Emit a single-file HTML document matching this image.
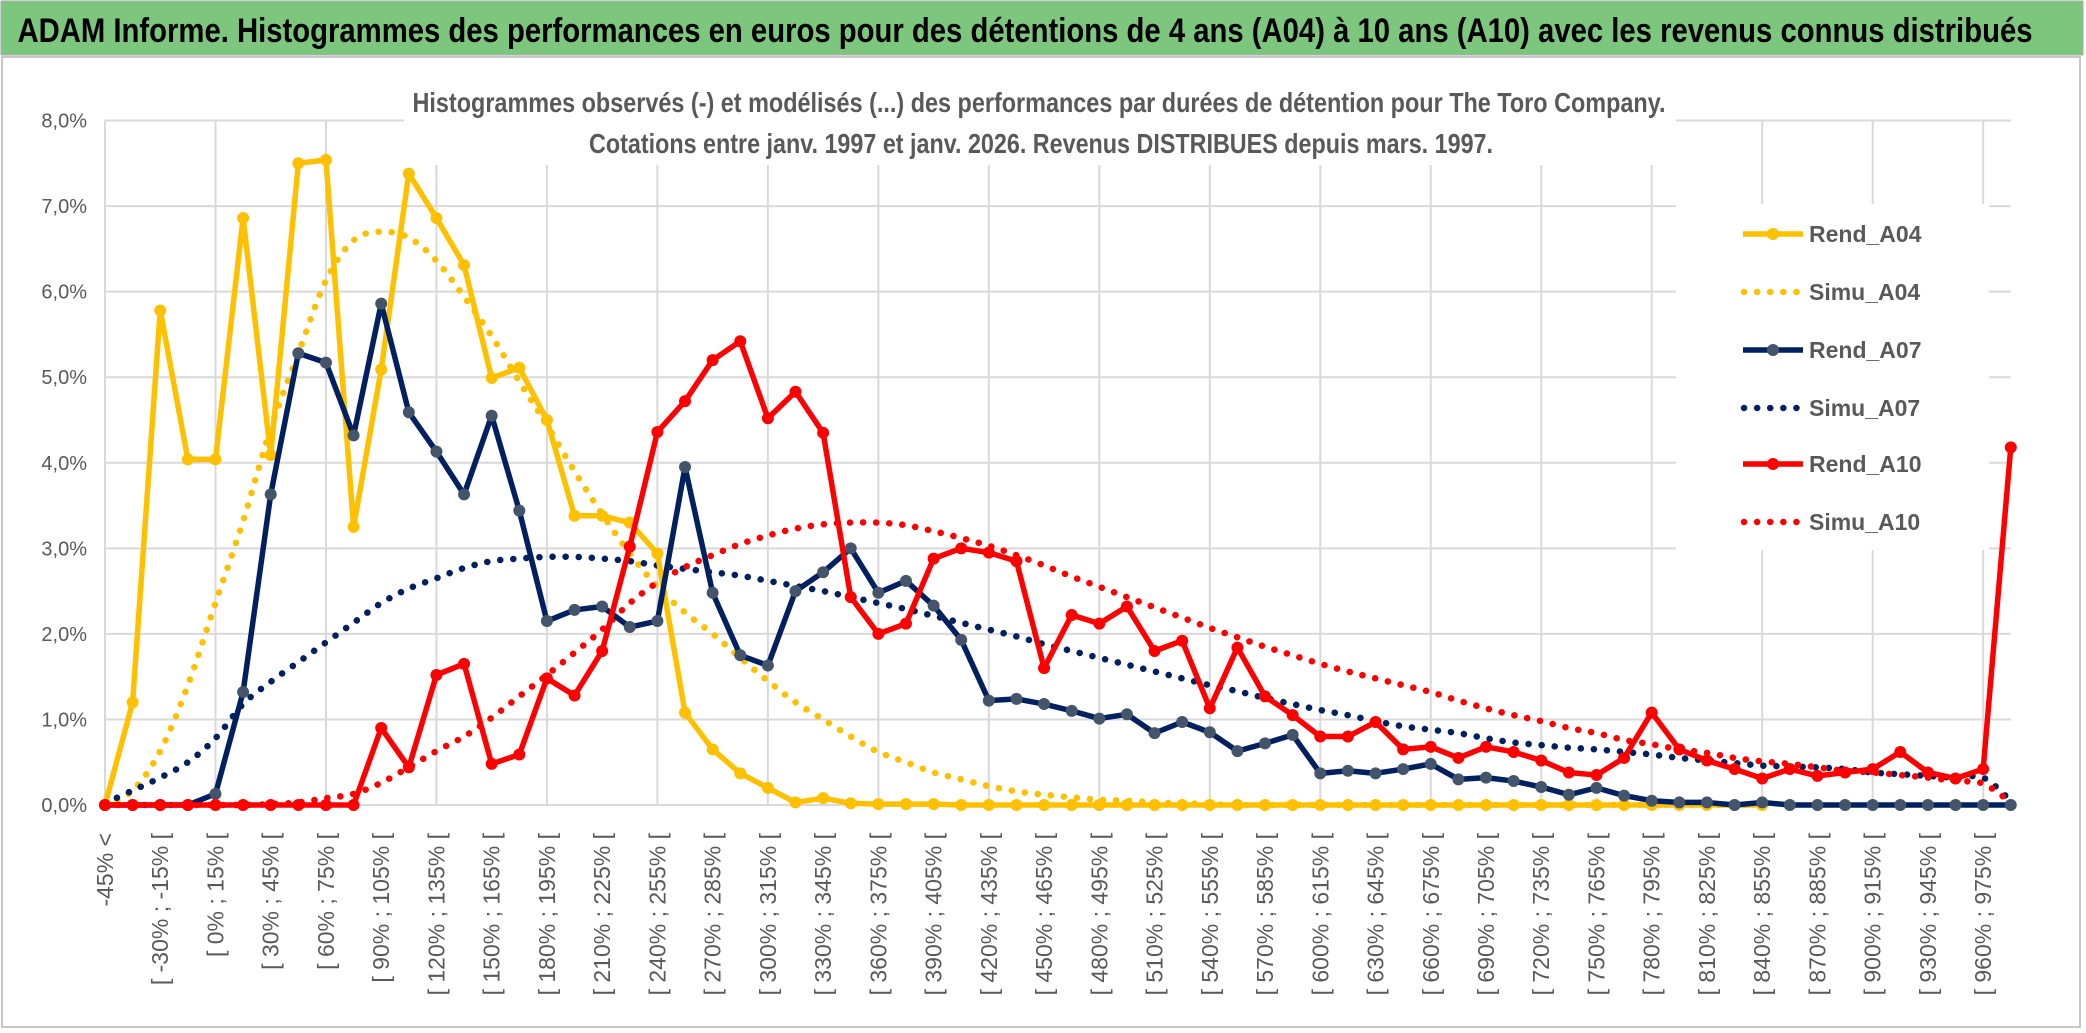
<!DOCTYPE html>
<html><head><meta charset="utf-8"><style>
html,body{margin:0;padding:0;background:#fff;}
svg{display:block;font-family:"Liberation Sans",sans-serif;}
</style></head><body>
<svg id="chart" width="2086" height="1033" viewBox="0 0 2086 1033" xmlns="http://www.w3.org/2000/svg">
<rect x="0" y="0" width="2086" height="1033" fill="#fff"/>
<rect x="1" y="1" width="2082" height="54" fill="#7DC67D" stroke="#aaa" stroke-width="1"/>
<text x="1025" y="42" text-anchor="middle" font-size="34" font-weight="bold" fill="#000" textLength="2015" lengthAdjust="spacingAndGlyphs">ADAM Informe. Histogrammes des performances en euros pour des détentions de 4 ans (A04) à 10 ans (A10) avec les revenus connus distribués</text>
<rect x="2" y="57" width="2078" height="970" fill="none" stroke="#c8c8c8" stroke-width="2"/>
<g id="grid"></g>
<rect x="404" y="78" width="1272" height="87" fill="#fff"/>
<text x="1039" y="112" text-anchor="middle" font-size="28" font-weight="bold" fill="#595959" textLength="1253" lengthAdjust="spacingAndGlyphs">Histogrammes observés (-) et modélisés (...) des performances par durées de détention pour The Toro Company.</text>
<text x="1041" y="153" text-anchor="middle" font-size="28" font-weight="bold" fill="#595959" textLength="904" lengthAdjust="spacingAndGlyphs">Cotations entre janv. 1997 et janv. 2026. Revenus DISTRIBUES depuis mars. 1997.</text>
<g id="yaxis"></g>
<g id="xaxis"></g>
<g id="series"></g>
<g id="legend"></g>
</svg>
<script>
const yTicks = [0,1,2,3,4,5,6,7,8];
const yTickLabels = ["0,0%","1,0%","2,0%","3,0%","4,0%","5,0%","6,0%","7,0%","8,0%"];
const categories = ["-45% <"];
for (let lo = -45; lo <= 975; lo += 15) categories.push("[ " + lo + "% ; " + (lo + 15) + "% [");
const rendA04 = [0,1.2,5.78,4.04,4.04,6.86,4.09,7.5,7.54,3.25,5.09,7.38,6.86,6.31,4.99,5.11,4.5,3.38,3.38,3.3,2.94,1.08,0.65,0.37,0.2,0.03,0.08,0.02,0.01,0.01,0.01,0,0,0,0,0,0,0,0,0,0,0,0,0,0,0,0,0,0,0,0,0,0,0,0,0,0,0,0,0,0];
const simuA04 = [0,0.17,0.63,1.4,2.36,3.32,4.4,5.28,6.13,6.6,6.7,6.63,6.36,5.94,5.48,4.95,4.44,3.9,3.4,2.94,2.55,2.25,2.0,1.72,1.45,1.2,1.0,0.8,0.62,0.5,0.38,0.3,0.22,0.16,0.12,0.09,0.06,0.05,0.03,0.02,0.01,0,0,0,0,0,0,0,0,0,0,0,0,0,0,0,0,0,0,0,0];
const rendA07 = [0,0,0,0,0.13,1.32,3.63,5.28,5.17,4.32,5.86,4.59,4.13,3.63,4.55,3.44,2.15,2.28,2.32,2.08,2.15,3.95,2.48,1.75,1.63,2.5,2.72,3.0,2.48,2.62,2.33,1.93,1.22,1.24,1.18,1.1,1.01,1.06,0.84,0.97,0.85,0.63,0.72,0.82,0.37,0.4,0.37,0.42,0.48,0.3,0.32,0.28,0.21,0.12,0.2,0.11,0.05,0.03,0.03,0,0.03,0,0,0,0,0,0,0,0,0];
const simuA07 = [0.02,0.17,0.32,0.5,0.78,1.18,1.44,1.67,1.9,2.13,2.36,2.53,2.65,2.77,2.85,2.88,2.9,2.9,2.88,2.85,2.8,2.76,2.72,2.68,2.62,2.56,2.5,2.43,2.36,2.29,2.21,2.13,2.05,1.97,1.88,1.8,1.72,1.64,1.56,1.48,1.4,1.33,1.25,1.18,1.11,1.05,0.98,0.92,0.88,0.84,0.78,0.73,0.7,0.67,0.65,0.62,0.59,0.55,0.52,0.49,0.46,0.45,0.44,0.42,0.38,0.36,0.34,0.32,0.32,0.05];
const rendA10 = [0,0,0,0,0,0,0,0,0,0,0.9,0.44,1.52,1.65,0.48,0.59,1.48,1.28,1.8,3.02,4.36,4.72,5.2,5.42,4.52,4.83,4.35,2.43,2.0,2.12,2.88,3.0,2.95,2.85,1.6,2.22,2.12,2.32,1.8,1.92,1.13,1.84,1.27,1.05,0.8,0.8,0.97,0.65,0.68,0.55,0.68,0.62,0.52,0.38,0.35,0.55,1.08,0.65,0.52,0.42,0.31,0.42,0.34,0.38,0.42,0.62,0.38,0.31,0.42,4.18];
const simuA10 = [0,0,0,0,0,0,0.01,0.03,0.08,0.13,0.26,0.44,0.63,0.8,1.02,1.27,1.52,1.78,2.05,2.36,2.6,2.78,2.92,3.05,3.15,3.23,3.28,3.3,3.3,3.27,3.2,3.12,3.03,2.92,2.8,2.67,2.55,2.43,2.31,2.19,2.07,1.96,1.85,1.75,1.65,1.56,1.48,1.4,1.32,1.22,1.13,1.05,0.98,0.9,0.84,0.76,0.71,0.65,0.61,0.55,0.51,0.48,0.44,0.4,0.38,0.35,0.32,0.28,0.25,0.03];

const NS = "http://www.w3.org/2000/svg";
const X0 = 105, DX = 27.62, Y0 = 805, DY = 85.56;
function xPos(i){ return X0 + i * DX; }
function yPos(v){ return Y0 - v * DY; }
function mk(tag, attrs, parent){ const e = document.createElementNS(NS, tag); for (const k in attrs) e.setAttribute(k, attrs[k]); parent.appendChild(e); return e; }

const grid = document.getElementById('grid');
yTicks.forEach(function(t){
  const l = mk('line', {x1: X0, x2: xPos(categories.length - 1), y1: yPos(t), y2: yPos(t), stroke: '#d9d9d9', 'stroke-width': 2}, grid);
  
  
});
for (let i = 0; i < categories.length; i += 4) {
  const l = mk('line', {x1: xPos(i), x2: xPos(i), y1: yPos(8), y2: Y0, stroke: '#d9d9d9', 'stroke-width': 2}, grid);
  
  
}
const yaxis = document.getElementById('yaxis');
yTicks.forEach(function(t, k){
  const tx = mk('text', {x: 87, y: yPos(t) + 7, 'text-anchor': 'end', 'font-size': 20, fill: '#595959'}, yaxis);
  tx.textContent = yTickLabels[k];
  
  
});
const xaxis = document.getElementById('xaxis');
for (let i = 0; i < categories.length; i += 2) {
  const x = xPos(i), y = 833;
  const tx = mk('text', {x: x, y: y, 'text-anchor': 'end', 'font-size': 23, fill: '#595959', transform: 'rotate(-90 ' + x + ' ' + y + ')', dy: '8'}, xaxis);
  tx.textContent = categories[i];
  
  
}

function smoothPath(vals){
  const p = vals.map(function(v, i){ return [xPos(i), yPos(v)]; });
  let d = 'M' + p[0][0] + ' ' + p[0][1];
  for (let i = 0; i < p.length - 1; i++) {
    const a = p[Math.max(0, i - 1)], b = p[i], c = p[i + 1], e = p[Math.min(p.length - 1, i + 2)];
    const c1x = b[0] + (c[0] - a[0]) / 6, c1y = b[1] + (c[1] - a[1]) / 6;
    const c2x = c[0] - (e[0] - b[0]) / 6, c2y = c[1] - (e[1] - b[1]) / 6;
    d += ' C' + c1x + ' ' + c1y + ' ' + c2x + ' ' + c2y + ' ' + c[0] + ' ' + c[1];
  }
  return d;
}
function linePath(vals){
  return vals.map(function(v, i){ return (i ? 'L' : 'M') + xPos(i) + ' ' + yPos(v); }).join(' ');
}
const series = document.getElementById('series');
function dotted(vals, color, name){
  const p = mk('path', {d: smoothPath(vals), fill: 'none', stroke: color, 'stroke-width': 6.5, 'stroke-linecap': 'round', 'stroke-dasharray': '0.1 13'}, series);
  
  
}
function solid(vals, color, marker, name){
  const g = mk('g', {}, series);
  
  
  mk('path', {d: linePath(vals), fill: 'none', stroke: color, 'stroke-width': 5.5, 'stroke-linejoin': 'round'}, g);
  vals.forEach(function(v, i){
    const c = mk('circle', {cx: xPos(i), cy: yPos(v), r: 6, fill: marker}, g);
    
    
  });
}
dotted(simuA04, '#FFC000', 'simu-a04-line');
dotted(simuA07, '#002060', 'simu-a07-line');
dotted(simuA10, '#FF0000', 'simu-a10-line');
solid(rendA04, '#FFC000', '#FFC000', 'rend-a04-line');
solid(rendA07, '#002060', '#44546A', 'rend-a07-line');
solid(rendA10, '#FF0000', '#FF0000', 'rend-a10-line');

const legend = document.getElementById('legend');
const bg = mk('rect', {x: 1676, y: 204, width: 313, height: 346, fill: '#fff'}, legend);


const legendNames = ["Rend_A04","Simu_A04","Rend_A07","Simu_A07","Rend_A10","Simu_A10"];
const legendColors = ['#FFC000','#FFC000','#002060','#002060','#FF0000','#FF0000'];
const legendMarkers = ['#FFC000',null,'#44546A',null,'#FF0000',null];
const legendY = [234,292,350,408,464,522];
legendNames.forEach(function(n, k){
  const g = mk('g', {}, legend);
  
  
  const y = legendY[k];
  if (legendMarkers[k]) {
    mk('line', {x1: 1743, x2: 1803, y1: y, y2: y, stroke: legendColors[k], 'stroke-width': 5.5}, g);
    mk('circle', {cx: 1773, cy: y, r: 6, fill: legendMarkers[k]}, g);
  } else {
    mk('line', {x1: 1744, x2: 1802, y1: y, y2: y, stroke: legendColors[k], 'stroke-width': 6.5, 'stroke-linecap': 'round', 'stroke-dasharray': '0.1 13'}, g);
  }
  const t = mk('text', {x: 1809, y: y + 8, 'font-size': 23, 'font-weight': 'bold', fill: '#595959'}, g);
  t.textContent = n;
});
</script>
</body></html>
